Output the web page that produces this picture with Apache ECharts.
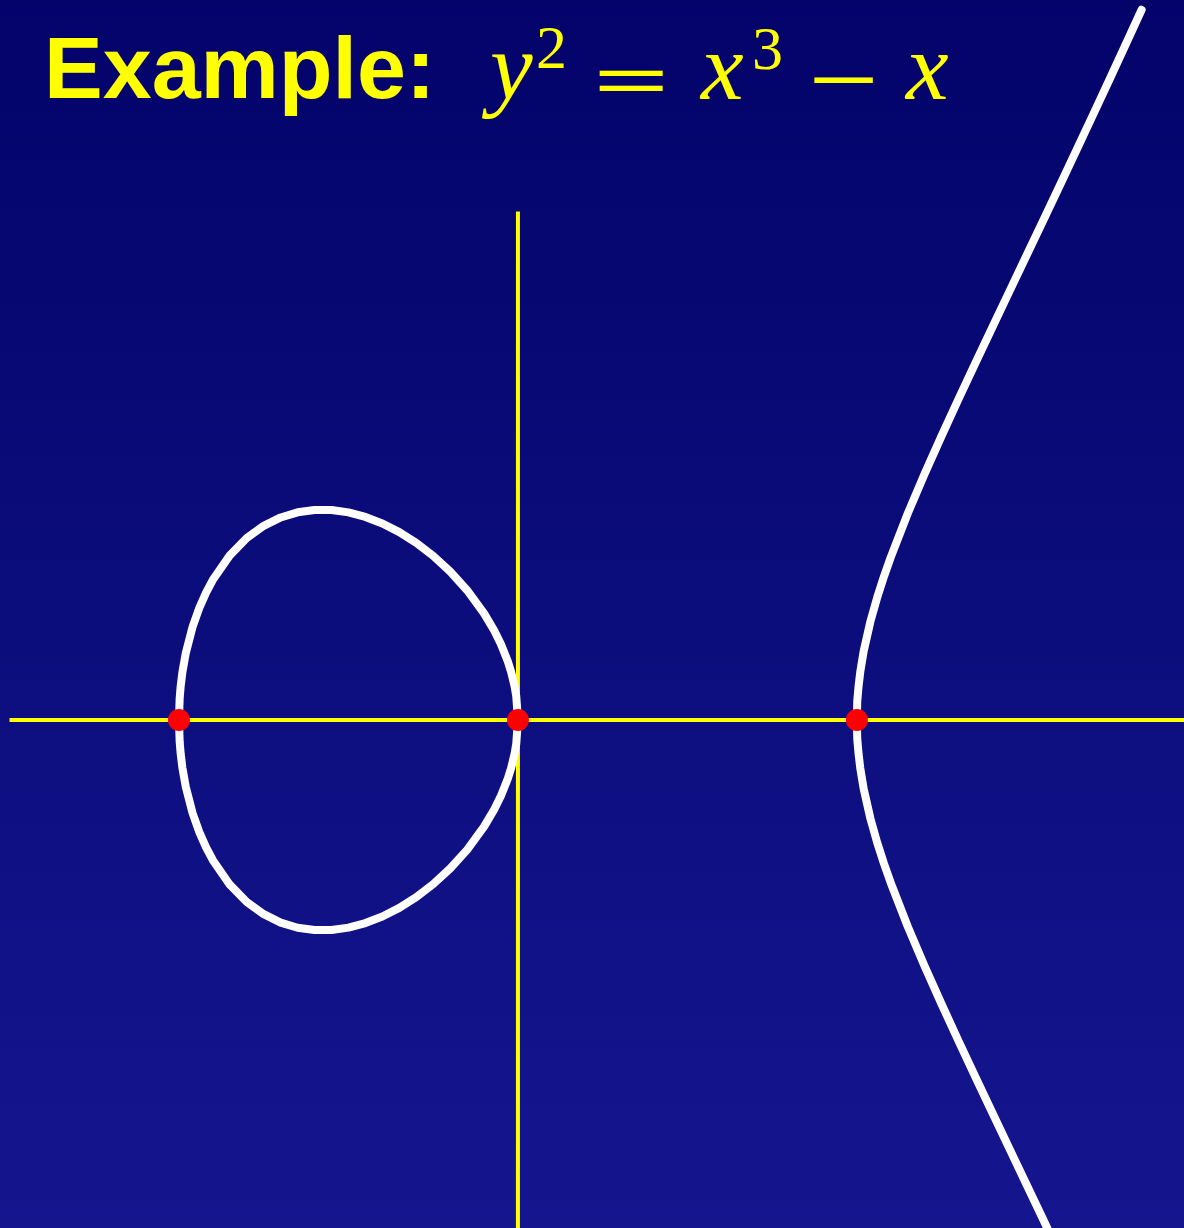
<!DOCTYPE html>
<html>
<head>
<meta charset="utf-8">
<script src="https://cdn.jsdelivr.net/npm/echarts@6/dist/echarts.min.js"></script>
<style>
  html, body { margin: 0; padding: 0; background: #0a0a78; }
  #chart { width: 1184px; height: 1228px; }
</style>
</head>
<body>
<div id="chart"></div>
<script>
// oval part (-1 <= x <= 0), upper half; lower half is the mirror
const ovalX = [-1, -0.998, -0.995, -0.99, -0.98, -0.96, -0.94, -0.92, -0.9, -0.85, -0.8, -0.75, -0.7, -0.65, -0.6, -0.55, -0.5, -0.45, -0.4, -0.35, -0.3, -0.25, -0.2, -0.15, -0.1, -0.07, -0.05, -0.03, -0.02, -0.01, -0.005, 0]
const ovalY = [0, 0.063, 0.0996, 0.1404, 0.197, 0.2743, 0.3308, 0.3759, 0.4135, 0.4857, 0.5367, 0.5728, 0.5975, 0.6127, 0.6197, 0.6194, 0.6124, 0.5991, 0.5797, 0.5542, 0.5225, 0.4841, 0.4382, 0.3829, 0.3146, 0.2639, 0.2233, 0.1731, 0.1414, 0.1, 0.0707, 0]
// right branch (x >= 1), upper half
const branchX = [1, 1.001, 1.005, 1.01, 1.02, 1.04, 1.06, 1.08, 1.1, 1.15, 1.2, 1.25, 1.3, 1.35, 1.4, 1.45, 1.5, 1.55, 1.6, 1.65, 1.7, 1.75, 1.8, 1.84]
const branchY = [0, 0.0548, 0.1004, 0.1425, 0.203, 0.2913, 0.362, 0.4239, 0.4806, 0.609, 0.7266, 0.8385, 0.9471, 1.0537, 1.1593, 1.2644, 1.3693, 1.4744, 1.5799, 1.6859, 1.7925, 1.8998, 2.008, 2.0951]
// roots on the x axis
const rootX = [-1, 0, 1]
// coordinate axes
const hAxis = [[-1.5, 0], [2.1, 0]]
const vAxis = [[0, 1.5], [0, -1.6]]

const chart = echarts.init(document.getElementById('chart'))

function halves(xs, ys) {
  const up = xs.map((x, i) => [x, ys[i]])
  const down = xs.map((x, i) => [x, -ys[i]])
  return { up, down }
}
const oval = halves(ovalX, ovalY)
const ovalData = oval.up.concat(oval.down.slice().reverse())
const branch = halves(branchX, branchY)
const branchData = branch.down.slice().reverse().concat(branch.up.slice(1))

const yellow = '#ffff00'
const mathFont = '"Liberation Serif"'

function mathText(t, left, top, size, italic, sx, bold) {
  return {
    type: 'text', left: left, top: top, scaleX: sx || 1,
    style: {
      text: t, fill: yellow, fontFamily: mathFont, fontSize: size,
      fontStyle: italic ? 'italic' : 'normal', fontWeight: bold ? 'bold' : 'normal'
    }
  }
}

chart.setOption({
  animation: false,
  backgroundColor: new echarts.graphic.LinearGradient(0, 0, 0, 1, [
    { offset: 0, color: '#03036a' },
    { offset: 1, color: '#15168f' }
  ]),
  grid: { left: 0, right: 0, top: 0, bottom: 0, containLabel: false },
  xAxis: { type: 'value', min: -1.528, max: 1.965, show: false },
  yAxis: { type: 'value', min: -1.4985, max: 2.1239, show: false },
  graphic: [
    { type: 'text', left: 44, top: 30, style: { text: 'Example:', fill: yellow, fontFamily: '"Liberation Sans"', fontWeight: 'bold', fontSize: 88 } },
    mathText('y', 490, 26, 96, true),
    mathText('2', 536, 21, 62, false),
    mathText('=', 593, 48, 76, false, 1.78, true),
    mathText('x', 701, 26, 96, true),
    mathText('3', 752, 22, 62, false),
    mathText('\u2212', 808, 46, 80, false, 1.57, true),
    mathText('x', 906, 26, 96, true)
  ],
  series: [
    {
      type: 'line', data: hAxis, symbol: 'none', z: 1,
      lineStyle: { color: yellow, width: 4 }
    },
    {
      type: 'line', data: vAxis, symbol: 'none', z: 1,
      lineStyle: { color: yellow, width: 4 }
    },
    {
      type: 'line', data: ovalData, symbol: 'none', z: 2,
      lineStyle: { color: '#ffffff', width: 8, join: 'round', cap: 'round' }
    },
    {
      type: 'line', data: branchData, symbol: 'none', z: 2,
      lineStyle: { color: '#ffffff', width: 8, join: 'round', cap: 'round' }
    },
    {
      type: 'scatter', data: rootX.map(x => [x, 0]), symbolSize: 22, z: 3,
      itemStyle: { color: '#ff0000', opacity: 1 }
    }
  ]
})
</script>
</body>
</html>
